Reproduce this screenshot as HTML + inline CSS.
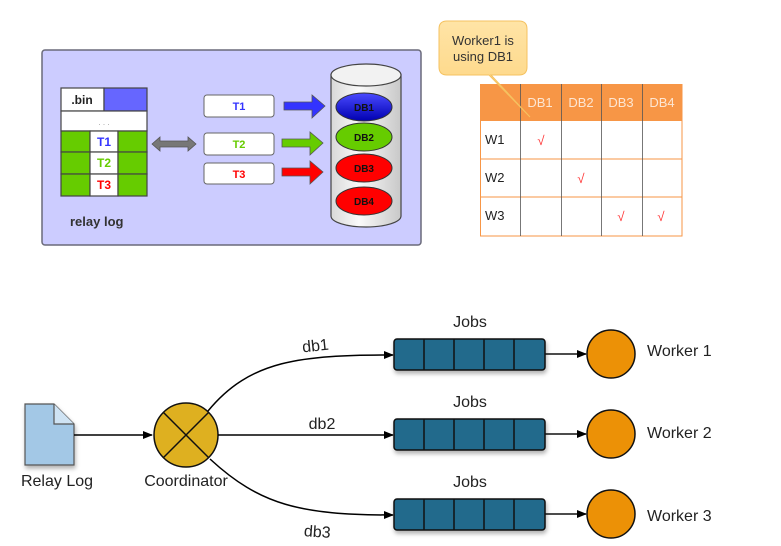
<!DOCTYPE html>
<html><head><meta charset="utf-8"><style>
html,body{margin:0;padding:0;background:#fff;}
svg{display:block;font-family:"Liberation Sans",sans-serif;}
</style></head><body>
<svg width="781" height="546" viewBox="0 0 781 546" xmlns="http://www.w3.org/2000/svg">
<defs>
<linearGradient id="cyl" x1="0" x2="1" y1="0" y2="0"><stop offset="0" stop-color="#d8d8d8"/><stop offset="0.4" stop-color="#fafafa"/><stop offset="1" stop-color="#c8c8c8"/></linearGradient>
<linearGradient id="db1" x1="0" y1="0" x2="0" y2="1"><stop offset="0" stop-color="#4a4aff"/><stop offset="1" stop-color="#0000b0"/></linearGradient>
<linearGradient id="call" x1="0" y1="0" x2="0" y2="1"><stop offset="0" stop-color="#ffe4a6"/><stop offset="1" stop-color="#fdd27a"/></linearGradient>
<marker id="ah" markerWidth="10" markerHeight="8" refX="9" refY="4" orient="auto" markerUnits="userSpaceOnUse"><path d="M0,0 L10,4 L0,8 z" fill="#000"/></marker>
<filter id="sh" x="-10%" y="-20%" width="130%" height="160%"><feDropShadow dx="1" dy="3" stdDeviation="2" flood-color="#000" flood-opacity="0.3"/></filter>
</defs>

<rect x="42" y="50" width="379" height="195" rx="3" fill="#ccccff" stroke="#6a6a7a" stroke-width="1.5"/>
<g stroke="#444" stroke-width="1.2">
<rect x="61" y="88" width="43" height="23" fill="#fff"/>
<rect x="104" y="88" width="43" height="23" fill="#6666ff"/>
<rect x="61" y="111" width="86" height="20" fill="#fff"/>
<rect x="61" y="131" width="29" height="21" fill="#66cc00"/><rect x="90" y="131" width="28" height="21" fill="#fff"/><rect x="118" y="131" width="29" height="21" fill="#66cc00"/>
<rect x="61" y="152" width="29" height="22" fill="#66cc00"/><rect x="90" y="152" width="28" height="22" fill="#fff"/><rect x="118" y="152" width="29" height="22" fill="#66cc00"/>
<rect x="61" y="174" width="29" height="22" fill="#66cc00"/><rect x="90" y="174" width="28" height="22" fill="#fff"/><rect x="118" y="174" width="29" height="22" fill="#66cc00"/>
</g>
<g font-size="12" font-weight="bold" text-anchor="middle">
<text x="82" y="104" fill="#222">.bin</text>
<text x="104" y="125" fill="#999" font-size="8" font-weight="normal">. . .</text>
<text x="104" y="146" fill="#3333ff">T1</text>
<text x="104" y="167" fill="#66cc00">T2</text>
<text x="104" y="189" fill="#ff0000">T3</text>
</g>
<text x="70" y="226" font-size="13" font-weight="bold" fill="#333">relay log</text>
<path d="M152,144 L160,137 L160,141 L188,141 L188,137 L196,144 L188,151 L188,147 L160,147 L160,151 z" fill="#777" stroke="#555" stroke-width="0.8"/>
<g stroke="#666" stroke-width="1" fill="#fff">
<rect x="204" y="95" width="70" height="22" rx="3"/>
<rect x="204" y="133" width="70" height="22" rx="3"/>
<rect x="204" y="163" width="70" height="21" rx="3"/>
</g>
<g font-size="11" font-weight="bold" text-anchor="middle">
<text x="239" y="110" fill="#3333ff">T1</text>
<text x="239" y="148" fill="#66cc00">T2</text>
<text x="239" y="178" fill="#ff0000">T3</text>
</g>
<path d="M284,102 L312,102 L312,95 L325,106 L312,118 L312,110 L284,110 z" fill="#3333ff" stroke="#555" stroke-width="0.8"/>
<path d="M282,139 L310,139 L310,132 L323,143 L310,155 L310,147 L282,147 z" fill="#66cc00" stroke="#555" stroke-width="0.8"/>
<path d="M282,168 L310,168 L310,161 L323,172 L310,184 L310,176 L282,176 z" fill="#ff0000" stroke="#555" stroke-width="0.8"/>
<path d="M331,75 L331,216 A35,11 0 0 0 401,216 L401,75 z" fill="url(#cyl)" stroke="#444" stroke-width="1.2"/>
<ellipse cx="366" cy="75" rx="35" ry="11" fill="#f2f2f2" stroke="#444" stroke-width="1.2"/>
<g stroke="#333" stroke-width="1">
<ellipse cx="364" cy="107" rx="28" ry="14" fill="url(#db1)"/>
<ellipse cx="364" cy="137" rx="28" ry="14" fill="#66cc00"/>
<ellipse cx="364" cy="168" rx="28" ry="14" fill="#ff0000"/>
<ellipse cx="364" cy="201" rx="28" ry="14" fill="#ff0000"/>
</g>
<g font-size="10" font-weight="bold" text-anchor="middle" fill="#111">
<text x="364" y="111">DB1</text><text x="364" y="141">DB2</text><text x="364" y="172">DB3</text><text x="364" y="205">DB4</text>
</g>

<rect x="480" y="84" width="202" height="37" fill="#f79646"/>
<g stroke="#f79646" stroke-width="1" fill="none">
<rect x="480.5" y="84.5" width="201.5" height="151.5"/>
<line x1="480" y1="159" x2="682" y2="159"/>
<line x1="480" y1="197" x2="682" y2="197"/>
</g>
<g stroke="#555" stroke-width="0.8">
<line x1="520.5" y1="84" x2="520.5" y2="236"/>
<line x1="561.5" y1="84" x2="561.5" y2="236"/>
<line x1="601.5" y1="84" x2="601.5" y2="236"/>
<line x1="642.5" y1="84" x2="642.5" y2="236"/>
</g>
<g font-size="13" fill="#fde6d2" text-anchor="middle">
<text x="540" y="107">DB1</text><text x="581" y="107">DB2</text><text x="621" y="107">DB3</text><text x="662" y="107">DB4</text>
</g>
<g font-size="13" fill="#222">
<text x="485" y="144">W1</text><text x="485" y="182">W2</text><text x="485" y="220">W3</text>
</g>
<g font-size="13" fill="#ff3333" text-anchor="middle">
<text x="541" y="145">√</text><text x="581" y="183">√</text><text x="621" y="221">√</text><text x="661" y="221">√</text>
</g>
<path d="M447,21 L519,21 Q527,21 527,29 L527,67 Q527,75 519,75 L491,75 L530,117 L489,75 L447,75 Q439,75 439,67 L439,29 Q439,21 447,21 z" fill="url(#call)" stroke="#f5c260" stroke-width="1"/>
<text x="483" y="45" font-size="13" fill="#333" text-anchor="middle">Worker1 is</text>
<text x="483" y="61" font-size="13" fill="#333" text-anchor="middle">using DB1</text>

<path d="M25,404 L54,404 L74,424 L74,465 L25,465 z" fill="#a3c8e6" stroke="#555" stroke-width="1.2" filter="url(#sh)"/>
<path d="M54,404 L54,424 L74,424" fill="#cfe3f3" stroke="#555" stroke-width="1.2"/>
<text x="57" y="486" font-size="16" fill="#222" text-anchor="middle">Relay Log</text>
<line x1="74" y1="435" x2="152" y2="435" stroke="#000" stroke-width="1.5" marker-end="url(#ah)"/>
<circle cx="186" cy="435" r="32" fill="#deb020" stroke="#111" stroke-width="1.5"/>
<line x1="163" y1="412" x2="209" y2="458" stroke="#111" stroke-width="1.5"/>
<line x1="209" y1="412" x2="163" y2="458" stroke="#111" stroke-width="1.5"/>
<text x="186" y="486" font-size="16" fill="#222" text-anchor="middle">Coordinator</text>

<g stroke="#000" stroke-width="1.5" fill="none">
<path d="M208,411 C250,360 300,355 393,355" marker-end="url(#ah)"/>
<line x1="218" y1="435" x2="393" y2="435" marker-end="url(#ah)"/>
<path d="M210,459 C260,505 300,515 393,515" marker-end="url(#ah)"/>
</g>
<g font-size="16" fill="#222" text-anchor="middle">
<text x="316" y="351" transform="rotate(-6 316 351)">db1</text>
<text x="322" y="429">db2</text>
<text x="317" y="537" transform="rotate(4 317 537)">db3</text>
</g>

<g stroke="#111" stroke-width="1.5">
<g filter="url(#sh)">
<rect x="394" y="339" width="151" height="31" rx="3" fill="#246a8c"/>
<rect x="394" y="419" width="151" height="31" rx="3" fill="#246a8c"/>
<rect x="394" y="499" width="151" height="31" rx="3" fill="#246a8c"/>
</g>
<path d="M424,339v31M454,339v31M484,339v31M514,339v31 M424,419v31M454,419v31M484,419v31M514,419v31 M424,499v31M454,499v31M484,499v31M514,499v31" fill="none"/>
<line x1="545" y1="354" x2="586" y2="354" marker-end="url(#ah)"/>
<line x1="545" y1="434" x2="586" y2="434" marker-end="url(#ah)"/>
<line x1="545" y1="514" x2="586" y2="514" marker-end="url(#ah)"/>
<circle cx="611" cy="354" r="24" fill="#ec9106"/>
<circle cx="611" cy="434" r="24" fill="#ec9106"/>
<circle cx="611" cy="514" r="24" fill="#ec9106"/>
</g>
<g font-size="16" fill="#222">
<text x="470" y="327" text-anchor="middle">Jobs</text>
<text x="470" y="407" text-anchor="middle">Jobs</text>
<text x="470" y="487" text-anchor="middle">Jobs</text>
<text x="647" y="356">Worker 1</text>
<text x="647" y="438">Worker 2</text>
<text x="647" y="521">Worker 3</text>
</g>
</svg>
</body></html>
